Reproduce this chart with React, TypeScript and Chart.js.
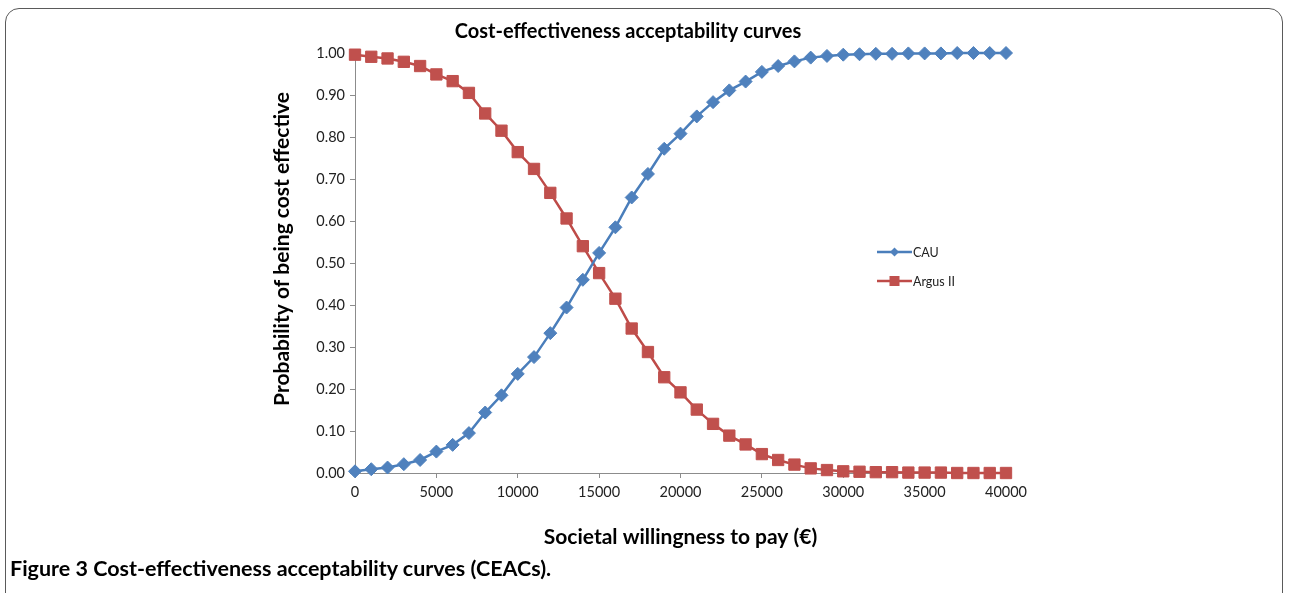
import React, { useEffect, useLayoutEffect, useRef } from "react";
import { Chart, registerables } from "chart.js";

Chart.register(...registerables);

const wtpValues: number[] = [
  0, 1000, 2000, 3000, 4000, 5000, 6000, 7000, 8000, 9000, 10000, 11000, 12000, 13000, 14000,
  15000, 16000, 17000, 18000, 19000, 20000, 21000, 22000, 23000, 24000, 25000, 26000, 27000,
  28000, 29000, 30000, 31000, 32000, 33000, 34000, 35000, 36000, 37000, 38000, 39000, 40000,
];

const cauValues: number[] = [
  0.004, 0.009, 0.013, 0.021, 0.031, 0.051, 0.067, 0.095, 0.144, 0.185, 0.236, 0.276, 0.333,
  0.394, 0.46, 0.524, 0.585, 0.656, 0.712, 0.772, 0.808, 0.849, 0.883, 0.911, 0.932, 0.955,
  0.969, 0.98, 0.989, 0.993, 0.996, 0.997, 0.998, 0.998, 0.999, 0.999, 0.999, 1.0, 1.0, 1.0, 1.0,
];

const argusValues: number[] = [
  0.996, 0.991, 0.987, 0.979, 0.969, 0.949, 0.933, 0.905, 0.856, 0.815, 0.764, 0.724, 0.667,
  0.606, 0.54, 0.476, 0.415, 0.344, 0.288, 0.228, 0.192, 0.151, 0.117, 0.089, 0.068, 0.045,
  0.031, 0.02, 0.011, 0.007, 0.004, 0.003, 0.002, 0.002, 0.001, 0.001, 0.001, 0, 0, 0, 0,
];

const seriesNames: string[] = ["CAU", "Argus II"];
const chartTitle = "Cost-effectiveness acceptability curves";
const xTitle = "Societal willingness to pay (€)";
const yTitle = "Probability of being cost effective";
const caption = "Figure 3";
const captionRest = " Cost-effectiveness acceptability curves (CEACs).";

const FONT = "Lato, 'Open Sans', sans-serif";
const AXIS_COLOR = "#8c8c8c";

const legendPlugin = {
  id: "insideLegend",
  afterDatasetsDraw(chart: any) {
    const ctx = chart.ctx;
    const x0 = 877;
    const rows = [252, 281];
    ctx.save();
    chart.data.datasets.forEach((ds: any, i: number) => {
      const y = rows[i];
      ctx.strokeStyle = ds.borderColor;
      ctx.lineWidth = 2.5;
      ctx.beginPath();
      ctx.moveTo(x0, y);
      ctx.lineTo(x0 + 35, y);
      ctx.stroke();
      ctx.fillStyle = ds.pointBackgroundColor;
      if (ds.pointStyle === "rect") {
        ctx.fillRect(x0 + 17.5 - 5, y - 5, 10, 10);
      } else {
        ctx.beginPath();
        ctx.moveTo(x0 + 17.5, y - 4.5);
        ctx.lineTo(x0 + 22, y);
        ctx.lineTo(x0 + 17.5, y + 4.5);
        ctx.lineTo(x0 + 13, y);
        ctx.closePath();
        ctx.fill();
      }
      ctx.fillStyle = "#222";
      ctx.font = `12.5px ${FONT}`;
      ctx.textBaseline = "middle";
      ctx.textAlign = "left";
      ctx.fillText(ds.label, x0 + 36, y + 0.5);
    });
    ctx.restore();
  },
};

const yTitlePlugin = {
  id: "yTitle",
  afterDraw(chart: any) {
    const ctx = chart.ctx;
    ctx.save();
    ctx.translate(282, 249);
    ctx.rotate(-Math.PI / 2);
    ctx.fillStyle = "#000";
    ctx.font = `bold 21px ${FONT}`;
    ctx.textAlign = "center";
    ctx.textBaseline = "middle";
    ctx.fillText(yTitle, 0, 0);
    ctx.restore();
  },
};

function CeacChart() {
  const canvasRef = useRef<HTMLCanvasElement | null>(null);

  useEffect(() => {
    const canvas = canvasRef.current;
    if (!canvas) return;
    const chart = new Chart(canvas, {
      type: "line",
      data: {
        datasets: [
          {
            label: seriesNames[0],
            data: wtpValues.map((x, i) => ({ x, y: cauValues[i] })),
            borderColor: "#4A7EBB",
            backgroundColor: "#4F81BD",
            pointBackgroundColor: "#4F81BD",
            pointBorderColor: "#4F81BD",
            pointStyle: "rectRot",
            pointRadius: 6.5,
            pointBorderWidth: 1,
            borderWidth: 2.5,
            tension: 0,
            fill: false,
            clip: false,
          },
          {
            label: seriesNames[1],
            data: wtpValues.map((x, i) => ({ x, y: argusValues[i] })),
            borderColor: "#BE4B48",
            backgroundColor: "#C0504D",
            pointBackgroundColor: "#C0504D",
            pointBorderColor: "#C0504D",
            pointStyle: "rect",
            pointRadius: 8,
            pointBorderWidth: 1,
            borderWidth: 2.5,
            tension: 0,
            fill: false,
            clip: false,
          },
        ] as any,
      },
      options: {
        animation: false,
        responsive: false,
        devicePixelRatio: 1,
        layout: { padding: { left: 250, right: 283, top: 10, bottom: 0 } },
        plugins: {
          legend: { display: false },
          tooltip: { enabled: false },
          title: {
            display: true,
            text: chartTitle,
            color: "#000",
            font: { family: FONT, size: 20, weight: "bold", lineHeight: 1.2 },
            padding: { top: 10, bottom: 9 },
          },
        },
        scales: {
          x: {
            type: "linear",
            min: 0,
            max: 40000,
            afterFit: (scale: any) => {
              scale.height = 87;
            },
            ticks: {
              stepSize: 5000,
              color: "#222",
              padding: 6,
              maxRotation: 0,
              font: { family: FONT, size: 14.5 },
              callback: (v: any) => String(v),
            },
            grid: { drawOnChartArea: false, drawTicks: true, tickLength: 5, color: AXIS_COLOR },
            border: { display: true, color: AXIS_COLOR, width: 1 },
            title: {
              display: true,
              text: xTitle,
              color: "#000",
              font: { family: FONT, size: 21, weight: "bold", lineHeight: 1.2 },
              padding: { top: 0, bottom: 10.4 },
            },
          },
          y: {
            type: "linear",
            min: 0,
            max: 1,
            afterFit: (scale: any) => {
              scale.width = 105;
            },
            ticks: {
              stepSize: 0.1,
              color: "#222",
              padding: 5,
              font: { family: FONT, size: 14.5 },
              callback: (v: any) => Number(v).toFixed(2),
            },
            grid: { drawOnChartArea: false, drawTicks: true, tickLength: 5, color: AXIS_COLOR },
            border: { display: true, color: AXIS_COLOR, width: 1 },
            title: { display: false },
          },
        },
      } as any,
      plugins: [legendPlugin, yTitlePlugin],
    });
    return () => chart.destroy();
  }, []);

  return (
    <canvas
      ref={canvasRef}
      width={1289}
      height={560}
      style={{ position: "absolute", left: 0, top: 0, width: 1289, height: 560 }}
    />
  );
}

export default function App() {
  useLayoutEffect(() => {
    document.body.style.margin = "0";
  }, []);
  return (
    <div
      style={{
        position: "relative",
        width: 1289,
        height: 593,
        overflow: "hidden",
        background: "#fff",
      }}
    >
      <div
        style={{
          position: "absolute",
          left: 5,
          top: 8,
          width: 1278,
          height: 640,
          border: "1.5px solid #5a5a5a",
          borderRadius: 14,
          boxSizing: "border-box",
        }}
      />
      <CeacChart />
      <div
        style={{
          position: "absolute",
          left: 10,
          top: 555,
          fontFamily: FONT,
          fontSize: 21.5,
          fontWeight: "bold",
          color: "#000",
          whiteSpace: "nowrap",
          lineHeight: "26px",
        }}
      >
        <span style={{ color: "#000" }}>{caption}</span>
        <span>{captionRest}</span>
      </div>
    </div>
  );
}
